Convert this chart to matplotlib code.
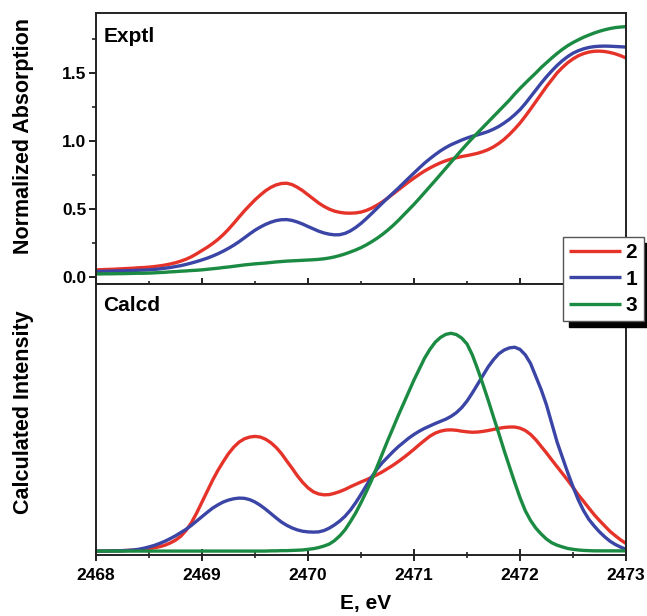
import matplotlib
matplotlib.use("Agg")
import matplotlib.pyplot as plt
from matplotlib.ticker import MultipleLocator

plt.rcParams['font.family'] = ['Liberation Sans', 'DejaVu Sans']
plt.rcParams['font.weight'] = 'bold'

# energy grid, eV (2468.00 ... 2473.00 in 0.05 steps)
energy = [round(2468.0 + 0.05 * i, 2) for i in range(101)]

# ---- Experimental (normalized absorption), rows of 10 points (0.5 eV each)
exp_2 = [0.054, 0.055, 0.057, 0.058, 0.060, 0.062, 0.064, 0.066, 0.069, 0.071,
         0.074, 0.078, 0.083, 0.089, 0.097, 0.106, 0.118, 0.132, 0.150, 0.172,
         0.196, 0.220, 0.247, 0.277, 0.312, 0.352, 0.396, 0.442, 0.487, 0.528,
         0.568, 0.603, 0.635, 0.660, 0.678, 0.688, 0.690, 0.680, 0.660, 0.635,
         0.605, 0.575, 0.545, 0.520, 0.500, 0.485, 0.476, 0.471, 0.470, 0.472,
         0.478, 0.490, 0.507, 0.528, 0.552, 0.580, 0.610, 0.640, 0.670, 0.700,
         0.728, 0.755, 0.780, 0.802, 0.822, 0.840, 0.855, 0.867, 0.877, 0.886,
         0.893, 0.901, 0.910, 0.922, 0.937, 0.957, 0.982, 1.012, 1.048, 1.088,
         1.132, 1.182, 1.235, 1.290, 1.345, 1.400, 1.450, 1.500, 1.540, 1.575,
         1.603, 1.626, 1.642, 1.653, 1.659, 1.660, 1.657, 1.650, 1.640, 1.626,
         1.610]
exp_1 = [0.042, 0.043, 0.044, 0.045, 0.046, 0.047, 0.048, 0.049, 0.051, 0.052,
         0.054, 0.057, 0.061, 0.066, 0.071, 0.078, 0.085, 0.094, 0.104, 0.115,
         0.127, 0.140, 0.155, 0.172, 0.191, 0.212, 0.235, 0.261, 0.289, 0.318,
         0.345, 0.368, 0.388, 0.404, 0.416, 0.422, 0.423, 0.417, 0.405, 0.390,
         0.372, 0.355, 0.338, 0.325, 0.316, 0.311, 0.312, 0.322, 0.340, 0.365,
         0.395, 0.430, 0.467, 0.505, 0.543, 0.580, 0.616, 0.652, 0.690, 0.728,
         0.765, 0.802, 0.838, 0.870, 0.900, 0.928, 0.952, 0.973, 0.990, 1.007,
         1.022, 1.035, 1.045, 1.057, 1.070, 1.087, 1.107, 1.132, 1.160, 1.193,
         1.230, 1.275, 1.325, 1.375, 1.425, 1.472, 1.515, 1.555, 1.590, 1.620,
         1.645, 1.663, 1.677, 1.687, 1.693, 1.696, 1.697, 1.696, 1.694, 1.692,
         1.690]
exp_3 = [0.024, 0.024, 0.025, 0.025, 0.026, 0.026, 0.027, 0.028, 0.029, 0.029,
         0.030, 0.032, 0.034, 0.036, 0.039, 0.041, 0.044, 0.046, 0.049, 0.051,
         0.054, 0.058, 0.062, 0.066, 0.071, 0.075, 0.080, 0.085, 0.090, 0.094,
         0.098, 0.101, 0.104, 0.108, 0.112, 0.115, 0.118, 0.120, 0.122, 0.124,
         0.126, 0.128, 0.131, 0.135, 0.141, 0.149, 0.159, 0.171, 0.185, 0.200,
         0.217, 0.237, 0.260, 0.285, 0.313, 0.344, 0.378, 0.415, 0.455, 0.495,
         0.535, 0.578, 0.622, 0.666, 0.710, 0.755, 0.800, 0.845, 0.890, 0.935,
         0.978, 1.020, 1.060, 1.100, 1.140, 1.180, 1.220, 1.260, 1.300, 1.345,
         1.386, 1.425, 1.463, 1.500, 1.540, 1.575, 1.610, 1.643, 1.673, 1.700,
         1.723, 1.743, 1.762, 1.778, 1.793, 1.806, 1.817, 1.826, 1.833, 1.837,
         1.840]

# ---- Calculated intensity (arbitrary units)
calc_2 = [0.000, 0.000, 0.000, 0.001, 0.001, 0.002, 0.003, 0.004, 0.006, 0.008,
          0.011, 0.015, 0.020, 0.027, 0.037, 0.050, 0.068, 0.095, 0.130, 0.175,
          0.225, 0.275, 0.325, 0.370, 0.410, 0.447, 0.477, 0.500, 0.515, 0.523,
          0.526, 0.523, 0.513, 0.497, 0.475, 0.447, 0.413, 0.380, 0.345, 0.315,
          0.290, 0.272, 0.262, 0.258, 0.259, 0.265, 0.273, 0.283, 0.295, 0.306,
          0.317, 0.327, 0.338, 0.350, 0.363, 0.378, 0.393, 0.410, 0.428, 0.447,
          0.467, 0.488, 0.508, 0.527, 0.541, 0.550, 0.555, 0.556, 0.554, 0.550,
          0.547, 0.545, 0.546, 0.549, 0.553, 0.558, 0.563, 0.567, 0.569, 0.569,
          0.564, 0.553, 0.535, 0.510, 0.480, 0.450, 0.418, 0.387, 0.356, 0.325,
          0.292, 0.258, 0.228, 0.197, 0.167, 0.140, 0.115, 0.090, 0.070, 0.051,
          0.035]
calc_1 = [0.000, 0.000, 0.000, 0.001, 0.001, 0.002, 0.003, 0.005, 0.008, 0.013,
          0.019, 0.026, 0.035, 0.045, 0.057, 0.070, 0.085, 0.100, 0.118, 0.138,
          0.158, 0.178, 0.197, 0.212, 0.225, 0.234, 0.240, 0.243, 0.242, 0.236,
          0.225, 0.210, 0.192, 0.172, 0.152, 0.133, 0.118, 0.106, 0.097, 0.091,
          0.088, 0.087, 0.088, 0.094, 0.105, 0.120, 0.138, 0.160, 0.188, 0.222,
          0.260, 0.300, 0.340, 0.375, 0.405, 0.430, 0.455, 0.478, 0.498, 0.518,
          0.535, 0.550, 0.563, 0.574, 0.585, 0.595, 0.605, 0.618, 0.635, 0.658,
          0.688, 0.725, 0.765, 0.805, 0.845, 0.878, 0.905, 0.922, 0.932, 0.935,
          0.925, 0.900, 0.860, 0.800, 0.740, 0.670, 0.585, 0.500, 0.430, 0.360,
          0.295, 0.235, 0.185, 0.145, 0.115, 0.088, 0.065, 0.045, 0.030, 0.018,
          0.008]
calc_3 = [0.000, 0.000, 0.000, 0.000, 0.000, 0.000, 0.000, 0.000, 0.000, 0.000,
          0.000, 0.000, 0.000, 0.000, 0.000, 0.000, 0.000, 0.000, 0.000, 0.000,
          0.000, 0.000, 0.000, 0.000, 0.000, 0.000, 0.000, 0.000, 0.000, 0.000,
          0.000, 0.000, 0.000, 0.001, 0.001, 0.002, 0.002, 0.003, 0.004, 0.005,
          0.008, 0.011, 0.016, 0.023, 0.032, 0.048, 0.070, 0.098, 0.135, 0.175,
          0.222, 0.272, 0.325, 0.385, 0.445, 0.505, 0.562, 0.620, 0.675, 0.730,
          0.785, 0.835, 0.885, 0.925, 0.958, 0.980, 0.994, 0.999, 0.993, 0.977,
          0.950, 0.900, 0.835, 0.765, 0.692, 0.615, 0.540, 0.462, 0.388, 0.315,
          0.245, 0.185, 0.140, 0.105, 0.078, 0.055, 0.038, 0.027, 0.019, 0.012,
          0.008, 0.005, 0.003, 0.002, 0.001, 0.001, 0.001, 0.001, 0.001, 0.001,
          0.001]

labels = ['2', '1', '3']
colors = ['#e5332a', '#3a45a6', '#1b8a42']
x_ticks = [2468, 2469, 2470, 2471, 2472, 2473]
y_ticks_top = [0.0, 0.5, 1.0, 1.5]

fig = plt.figure(figsize=(6.47, 6.16), dpi=100)
L, R = 96 / 647, 626 / 647
ax1 = fig.add_axes([L, 1 - 284 / 616, R - L, (284 - 13) / 616])
ax2 = fig.add_axes([L, 1 - 555 / 616, R - L, (555 - 284) / 616])

lw = 2.4
lines = []
for ys, c, lab in zip([exp_2, exp_1, exp_3], colors, labels):
    ln, = ax1.plot(energy, ys, color=c, lw=lw, label=lab,
                   solid_joinstyle='round', solid_capstyle='butt')
    lines.append(ln)
for ys, c in zip([calc_2, calc_1, calc_3], colors):
    ax2.plot(energy, ys, color=c, lw=lw, solid_joinstyle='round',
             solid_capstyle='butt')

for ax in (ax1, ax2):
    ax.set_xlim(2468, 2473)
    for s in ax.spines.values():
        s.set_linewidth(1.4)
        s.set_color('#222222')
    ax.xaxis.set_major_locator(MultipleLocator(1))
    ax.xaxis.set_minor_locator(MultipleLocator(0.5))
    ax.tick_params(axis='x', which='major', direction='inout', length=8, width=1.4,
                   color='#222222', top=False, labelsize=12.5, pad=5)
    ax.tick_params(axis='x', which='minor', direction='inout', length=5, width=1.2,
                   color='#222222', top=False)

ax1.set_ylim(-0.05, 1.94)
ax1.set_yticks(y_ticks_top)
ax1.yaxis.set_minor_locator(MultipleLocator(0.25))
ax1.tick_params(axis='y', which='major', direction='out', length=5, width=1.4,
                color='#222222', labelsize=12.5, pad=2)
ax1.tick_params(axis='y', which='minor', direction='out', length=3, width=1.2,
                color='#222222')
ax1.tick_params(axis='x', labelbottom=False)

ax2.set_ylim(-0.018, 1.225)
ax2.set_yticks([])
ax2.set_xticks(x_ticks)

ax1.text(0.015, 0.948, 'Exptl', transform=ax1.transAxes, fontsize=15,
         fontweight='bold', va='top', ha='left')
ax2.text(0.013, 0.955, 'Calcd', transform=ax2.transAxes, fontsize=15,
         fontweight='bold', va='top', ha='left')

fig.text(24 / 647, 1 - 136 / 616, 'Normalized Absorption', rotation=90,
         ha='center', va='center', fontsize=15.5, fontweight='bold')
fig.text(24 / 647, 1 - 412 / 616, 'Calculated Intensity', rotation=90,
         ha='center', va='center', fontsize=15.5, fontweight='bold')
fig.text(366 / 647, 1 - 603 / 616, 'E, eV', ha='center', va='center',
         fontsize=15, fontweight='bold')

leg = fig.legend(handles=lines, labels=labels, loc='upper left',
                 bbox_to_anchor=(563 / 647, 1 - 237 / 616), frameon=True,
                 fancybox=False,
                 shadow={'ox': 4, 'oy': -4, 'color': 'black', 'alpha': 1},
                 fontsize=15, handlelength=2.5, handletextpad=0.2,
                 borderpad=0.3, labelspacing=0.35, borderaxespad=0)
leg.get_frame().set_edgecolor('#555555')
leg.get_frame().set_linewidth(1.0)
for t in leg.get_texts():
    t.set_fontweight('bold')

fig.savefig('out.png', dpi=100)
